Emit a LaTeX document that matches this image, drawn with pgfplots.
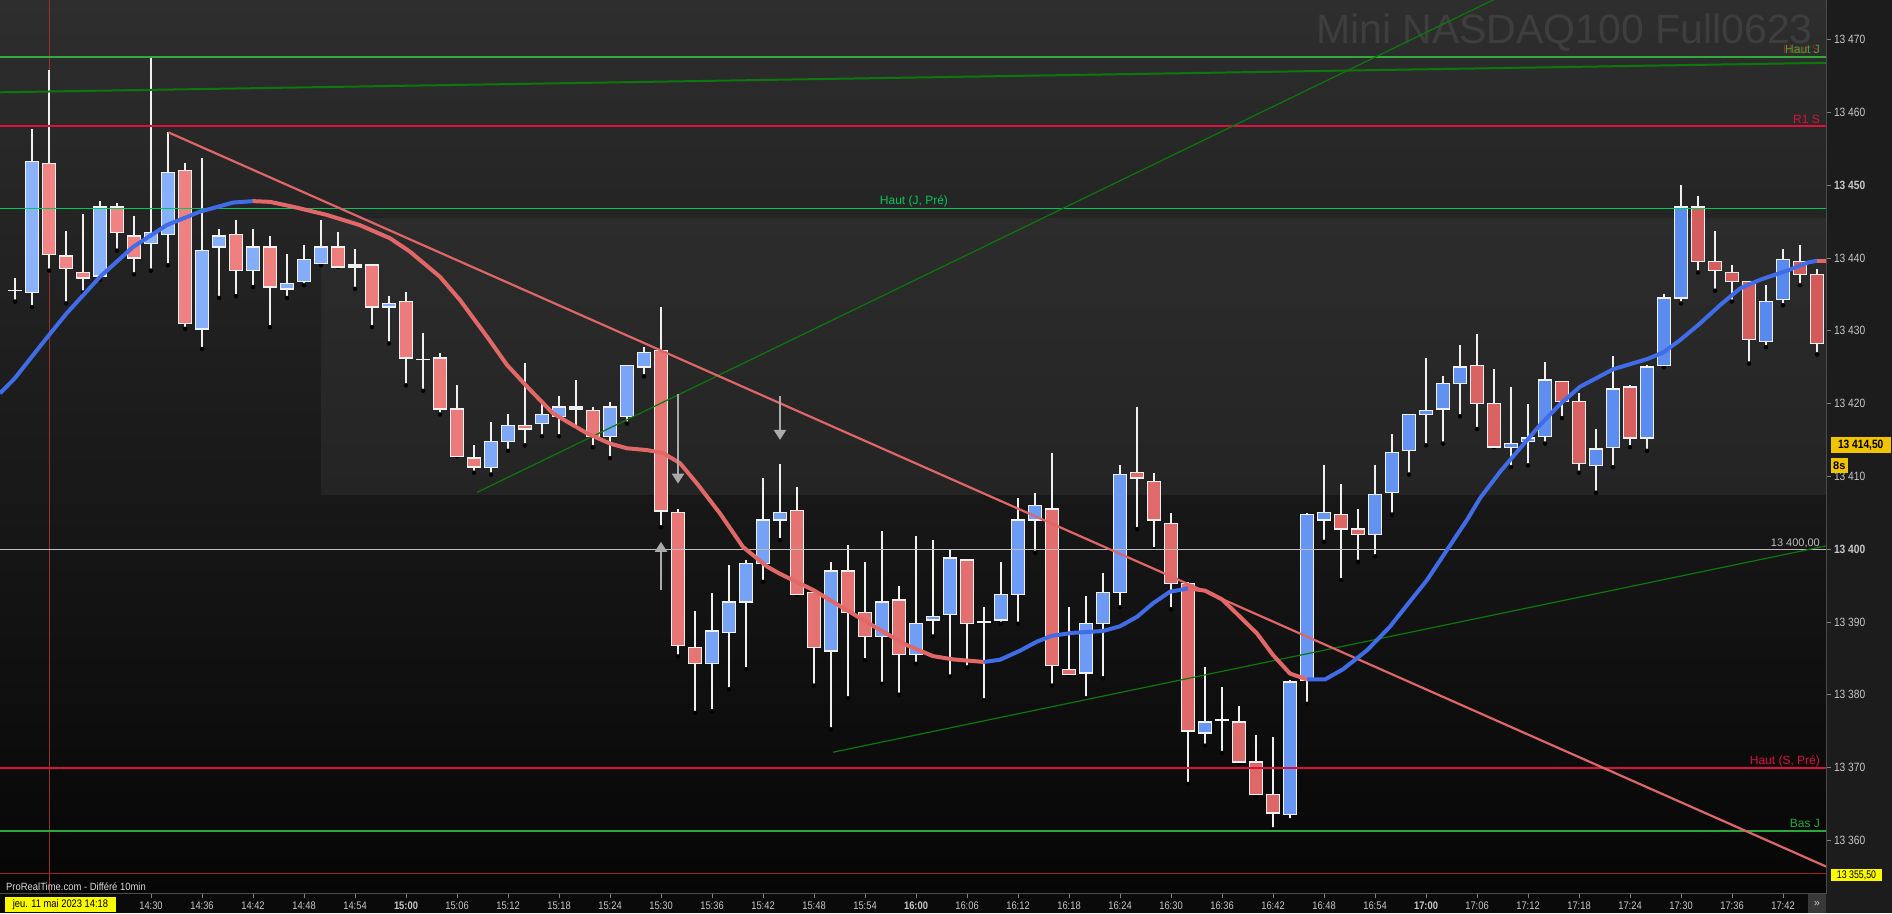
\documentclass[border=0pt]{standalone}
\usepackage{pgfplots}
\pgfplotsset{compat=1.18}
\usepackage{pgfplotstable}
\usepackage{fontspec}
\setmainfont{Liberation Sans}
\usetikzlibrary{arrows.meta}

\definecolor{bgTop}{RGB}{46,46,46}
\definecolor{bgBot}{RGB}{6,6,6}
\definecolor{zoneTop}{RGB}{44,44,44}
\definecolor{zoneBot}{RGB}{36,36,36}
\definecolor{panelBg}{RGB}{28,28,28}
\definecolor{stripBg}{RGB}{10,10,10}
\definecolor{frameGray}{RGB}{75,75,75}
\definecolor{tickText}{RGB}{200,200,200}
\definecolor{titleGray}{RGB}{62,62,62}
\definecolor{bL}{RGB}{140,180,252}
\definecolor{bR}{RGB}{86,136,238}
\definecolor{rL}{RGB}{242,134,132}
\definecolor{rR}{RGB}{212,90,90}
\definecolor{edgeW}{RGB}{240,240,240}
\definecolor{maBlue}{RGB}{64,108,232}
\definecolor{maRed}{RGB}{226,104,104}
\definecolor{trendRed}{RGB}{222,102,102}
\definecolor{slantGreen}{RGB}{12,120,12}
\definecolor{hautJ}{RGB}{50,170,60}
\definecolor{hautJPre}{RGB}{0,200,90}
\definecolor{crimsonL}{RGB}{220,16,60}
\definecolor{basJ}{RGB}{40,170,60}
\definecolor{grayLine}{RGB}{190,190,190}
\definecolor{darkRedLine}{RGB}{160,32,32}
\definecolor{cursorRed}{RGB}{150,50,50}
\definecolor{arrowGray}{RGB}{170,170,170}
\definecolor{goldBox}{RGB}{240,196,0}
\definecolor{yelBox}{RGB}{250,250,0}

% 2-minute candles, index 0 = 14:14 ; columns: open high low close
\pgfplotstableread{
i o h l c
0 13435.5 13437.25 13434.0 13435.5
1 13435.25 13457.75 13433.25 13453.25
2 13453.0 13465.75 13438.25 13440.5
3 13440.25 13443.75 13433.75 13438.5
4 13438.0 13446.0 13435.25 13437.25
5 13437.5 13447.75 13437.0 13447.0
6 13447.0 13447.5 13441.0 13443.5
7 13443.0 13445.75 13437.75 13440.0
8 13442.0 13467.5 13438.25 13443.5
9 13443.25 13457.25 13439.0 13451.75
10 13452.0 13453.0 13430.25 13431.0
11 13430.25 13453.75 13427.5 13441.0
12 13441.5 13444.0 13434.5 13443.0
13 13443.25 13445.25 13434.75 13438.25
14 13438.25 13444.0 13436.0 13441.5
15 13441.5 13443.0 13430.5 13436.0
16 13435.75 13440.5 13434.5 13436.5
17 13436.75 13441.75 13436.25 13439.75
18 13439.25 13445.25 13439.0 13441.5
19 13441.5 13443.5 13438.75 13438.75
20 13439.0 13441.25 13435.75 13438.75
21 13439.0 13439.0 13430.5 13433.25
22 13433.25 13434.75 13428.25 13433.75
23 13434.0 13435.25 13422.5 13426.25
24 13426.0 13429.75 13421.75 13426.0
25 13426.25 13427.0 13418.5 13419.25
26 13419.25 13422.5 13412.75 13412.75
27 13412.5 13414.25 13410.5 13411.25
28 13411.25 13417.5 13410.25 13414.75
29 13414.75 13418.5 13413.5 13417.0
30 13417.0 13425.5 13414.25 13416.5
31 13417.25 13420.0 13415.5 13418.5
32 13418.25 13421.0 13415.5 13419.5
33 13419.5 13423.25 13416.75 13419.25
34 13419.0 13419.5 13414.0 13415.5
35 13415.5 13420.25 13412.5 13419.5
36 13418.25 13425.25 13417.25 13425.25
37 13425.0 13427.75 13423.75 13427.0
38 13427.25 13433.25 13403.0 13405.25
39 13405.0 13405.5 13385.25 13386.75
40 13386.5 13391.5 13377.5 13384.25
41 13384.25 13394.0 13377.75 13388.75
42 13388.5 13397.75 13380.75 13392.75
43 13392.75 13398.5 13383.5 13398.0
44 13398.0 13409.75 13395.5 13404.0
45 13404.0 13411.75 13401.25 13405.0
46 13405.25 13408.5 13393.75 13393.75
47 13394.0 13394.0 13381.25 13386.5
48 13386.0 13398.25 13375.25 13397.0
49 13397.0 13400.5 13379.5 13391.25
50 13391.25 13398.25 13384.75 13388.0
51 13388.0 13402.5 13381.5 13392.75
52 13393.0 13395.0 13380.0 13385.5
53 13385.5 13401.75 13384.25 13389.75
54 13390.25 13401.25 13388.0 13390.75
55 13391.0 13400.0 13382.5 13398.75
56 13398.5 13398.5 13383.75 13389.75
57 13390.0 13392.0 13379.25 13390.0
58 13390.25 13398.25 13389.75 13393.75
59 13393.75 13407.0 13389.75 13404.0
60 13404.0 13407.75 13399.5 13406.0
61 13405.5 13413.25 13381.25 13384.0
62 13383.5 13392.0 13382.75 13382.75
63 13383.0 13393.5 13379.5 13389.75
64 13389.75 13396.75 13382.25 13394.0
65 13394.0 13411.5 13392.0 13410.25
66 13410.5 13419.5 13402.75 13409.75
67 13409.25 13410.5 13400.0 13404.0
68 13403.5 13405.0 13391.75 13395.25
69 13395.25 13395.5 13367.75 13375.0
70 13374.75 13383.75 13373.0 13376.25
71 13376.5 13381.0 13372.0 13376.5
72 13376.25 13378.5 13370.75 13370.75
73 13370.75 13374.5 13366.0 13366.25
74 13366.25 13374.25 13361.5 13363.75
75 13363.5 13382.0 13362.75 13381.75
76 13382.0 13405.0 13378.75 13404.75
77 13404.0 13411.5 13401.0 13405.0
78 13404.75 13409.0 13395.75 13402.75
79 13402.75 13405.5 13398.25 13402.0
80 13402.0 13411.5 13399.0 13407.5
81 13407.75 13415.75 13404.75 13413.25
82 13413.5 13418.5 13410.25 13418.5
83 13418.5 13426.25 13414.25 13419.0
84 13419.25 13423.75 13414.5 13422.75
85 13422.75 13428.0 13418.25 13425.0
86 13425.25 13429.5 13416.5 13420.0
87 13420.0 13424.75 13414.0 13414.0
88 13414.0 13422.25 13411.25 13414.5
89 13414.75 13420.0 13411.5 13415.25
90 13415.5 13425.75 13414.5 13423.25
91 13423.0 13423.0 13418.0 13420.25
92 13420.25 13421.5 13410.5 13411.75
93 13411.5 13416.5 13407.75 13413.75
94 13414.0 13426.5 13411.25 13422.0
95 13422.25 13422.5 13414.0 13415.25
96 13415.25 13425.25 13413.5 13425.0
97 13425.25 13435.0 13425.0 13434.5
98 13434.5 13450.0 13433.75 13447.0
99 13447.0 13448.5 13438.0 13439.5
100 13439.5 13443.75 13435.5 13438.25
101 13438.0 13439.0 13434.0 13436.75
102 13436.75 13436.75 13425.5 13428.75
103 13428.5 13436.25 13427.75 13434.0
104 13434.25 13441.25 13433.5 13439.75
105 13439.5 13441.75 13436.25 13437.75
106 13437.75 13438.5 13426.75 13428.25
}\candles

\pgfplotstableread{
x y v
39 13421.3 -12.3
45 13421.0 -6.0
38 13394.4 6.6
}\signals

\pgfplotsset{
  base/.style={at={(0pt,19.7pt)}, anchor=south west, width=1826pt, height=893.3pt,
    scale only axis, xmin=-0.8824, xmax=106.53, ymin=13352.72, ymax=13475.43},
}
\newcommand\lab{\fontsize{12}{12}\selectfont}

\begin{document}
\begin{tikzpicture}
\useasboundingbox (0pt,0pt) rectangle (1892pt,913pt);
\shade[top color=bgTop, bottom color=bgBot] (0pt,19.7pt) rectangle (1826pt,913pt);
\shade[top color=zoneTop, bottom color=zoneBot] (321pt,418pt) rectangle (1826pt,694pt);
\fill[panelBg] (1826pt,0pt) rectangle (1892pt,913pt);
\fill[stripBg] (0pt,0pt) rectangle (1826pt,19.7pt);
\node[anchor=base east, inner sep=0pt, font=\fontsize{41}{41}\selectfont, text=titleGray] at (1813pt,869.7pt) {Mini NASDAQ100 Full0623};

% wicks
\begin{axis}[base, hide axis]
\addplot[cursorRed, line width=1pt] coordinates {(2,13352.72) (2,13475.43)};
\addplot[only marks, mark=none, error bars/.cd, y dir=plus, y explicit, error mark=none,
  error bar style={line width=2.2pt, color=edgeW}]
  table[x=i, y=l, y error expr=\thisrow{h}-\thisrow{l}] {\candles};
\end{axis}

% bodies
\begin{axis}[base, hide axis, ymin=2.72, ymax=125.43, ybar stacked, bar width=0.73]
\addplot[draw=none, fill=none] table[x=i, y expr={min(\thisrow{o},\thisrow{c})-13350}] {\candles};
\addplot[draw=edgeW, line width=1.3pt, left color=bL, right color=bR]
  table[x=i, y expr={max(\thisrow{c}-\thisrow{o},0.01)}] {\candles};
\addplot[draw=edgeW, line width=1.3pt, left color=rL, right color=rR]
  table[x=i, y expr={max(\thisrow{o}-\thisrow{c},0.01)}] {\candles};
\end{axis}

% lines, averages, ticks
\begin{axis}[base, clip mode=individual,
  axis line style={draw=frameGray, line width=1pt},
  xtick={8,11,...,104},
  xticklabels={14:30,14:36,14:42,14:48,14:54,{\bfseries 15:00},15:06,15:12,15:18,15:24,15:30,15:36,15:42,15:48,15:54,{\bfseries 16:00},16:06,16:12,16:18,16:24,16:30,16:36,16:42,16:48,16:54,{\bfseries 17:00},17:06,17:12,17:18,17:24,17:30,17:36,17:42},
  ytick={13360,13370,...,13470},
  yticklabels={13 360,13 370,13 380,13 390,{\bfseries 13 400},13 410,13 420,13 430,13 440,{\bfseries 13 450},13 460,13 470},
  xtick pos=left, ytick pos=right, yticklabel pos=right,
  tick align=outside, major tick length=5pt,
  tick style={draw=frameGray!70!white, line width=0.8pt},
  xticklabel style={font=\fontsize{11}{11}\selectfont, text=tickText, xscale=0.85},
  yticklabel style={font=\fontsize{12}{12}\selectfont, text=tickText, xscale=0.85},
]
% horizontal levels
\addplot[hautJ, line width=2pt] coordinates {(-1,13467.6) (107,13467.6)};
\addplot[crimsonL, line width=2pt] coordinates {(-1,13458.1) (107,13458.1)};
\addplot[hautJPre, line width=1.5pt] coordinates {(-1,13446.8) (107,13446.8)};
\addplot[grayLine, line width=1pt] coordinates {(-1,13400) (107,13400)};
\addplot[crimsonL, line width=2pt] coordinates {(-1,13370) (107,13370)};
\addplot[basJ, line width=2pt] coordinates {(-1,13361.3) (107,13361.3)};
\addplot[darkRedLine, line width=1pt] coordinates {(-1,13355.5) (107,13355.5)};
% slanted lines
\addplot[slantGreen, line width=2pt] coordinates {(-0.88,13462.75) (106.53,13466.8)};
\addplot[slantGreen, line width=1.2pt] coordinates {(27.18,13407.8) (106.53,13497.6)};
\addplot[slantGreen, line width=1.2pt] coordinates {(48.12,13372.1) (106.53,13400.44)};
\addplot[trendRed, line width=2.2pt] coordinates {(9.02,13457.25) (106.53,13356.4)};
% moving average
\addplot[maBlue, line width=4pt, line join=round] coordinates {(-0.88,13421.4) (0,13423.5) (1.76,13428.7) (3.04,13432.4) (5,13437.4) (6.94,13441.5) (8.92,13444.5) (10.88,13446.35) (12.82,13447.6) (14,13447.8)};
\addplot[maRed, line width=4pt, line join=round] coordinates {(14,13447.8) (15,13447.7) (16.41,13447.0) (18.35,13445.9) (20.29,13444.5) (22.06,13442.7) (23.24,13440.85) (25,13437.4) (26.18,13434.2) (27.76,13429.2) (28.94,13425.3) (30.29,13421.9) (31.65,13418.65) (33.65,13415.9) (35,13414.5) (36,13413.85) (37.18,13413.6) (38.12,13413.2) (39.12,13411.8) (40.12,13409.0) (41.47,13404.9) (42.82,13400.3) (44.24,13397.6) (45,13396.6) (46.94,13394.4) (48.94,13391.6) (50.88,13388.9) (52.47,13386.8) (54,13385.3) (55.18,13384.85) (57,13384.5)};
\addplot[maBlue, line width=4pt, line join=round] coordinates {(57,13384.5) (57.94,13384.8) (59.12,13386.05) (60.12,13387.3) (61,13388.1) (62.24,13388.5) (64,13388.75) (65,13389.4) (66,13390.7) (66.94,13392.55) (67.94,13394.15) (69,13394.6)};
\addplot[maRed, line width=4pt, line join=round] coordinates {(69,13394.6) (70,13394.3) (71,13393.1) (72.06,13390.7) (73.06,13388.4) (74,13385.45) (75,13382.9) (76,13382.1)};
\addplot[maBlue, line width=4pt, line join=round] coordinates {(76,13382.1) (77.06,13382.1) (78.12,13383.5) (79.53,13386.1) (80.88,13389.35) (81.88,13392.3) (83.06,13395.75) (84.24,13399.9) (85.41,13404.0) (86.18,13407.0) (87.35,13410.6) (88.53,13413.85) (89.71,13417.05) (90.88,13419.9) (92.06,13422.3) (94,13424.7) (96,13426.1) (96.94,13427.0) (97.94,13428.7) (99.12,13431.0) (100.29,13433.5) (101.47,13435.8) (102.65,13437.0) (104.24,13438.25) (105.5,13439.4) (106,13439.6)};
\addplot[maRed, line width=4pt, line join=round] coordinates {(106,13439.6) (106.6,13439.6)};
% signal arrows
\addplot[arrowGray, line width=2.4pt, -{Triangle[width=12pt,length=10pt]}, quiver={u=0, v=\thisrow{v}}]
  table[x=x, y=y] {\signals};
% level labels
\node[anchor=base east, inner sep=0pt, font=\lab, text=darkRedLine] at (axis cs:106.18,13468.1) {Haut S};
\node[anchor=base east, inner sep=0pt, font=\lab, text=hautJ] at (axis cs:106.18,13468.1) {Haut J};
\node[anchor=base east, inner sep=0pt, font=\lab, text=crimsonL] at (axis cs:106.18,13458.5) {R1 S};
\node[anchor=base, inner sep=0pt, font=\lab, text=hautJPre] at (axis cs:52.88,13447.3) {Haut (J, Pré)};
\node[anchor=base east, inner sep=0pt, font=\fontsize{11}{11}\selectfont, text=grayLine] at (axis cs:106.18,13400.4) {13 400,00};
\node[anchor=base east, inner sep=0pt, font=\lab, text=crimsonL] at (axis cs:106.18,13370.4) {Haut (S, Pré)};
\node[anchor=base east, inner sep=0pt, font=\lab, text=basJ] at (axis cs:106.18,13361.7) {Bas J};
\end{axis}

% annotations outside the plot
\node[anchor=west, inner sep=0pt, xscale=0.9, font=\fontsize{10.5}{10.5}\selectfont, text=white!85!black] at (6pt,26.3pt) {ProRealTime.com - Différé 10min};
\fill[yelBox] (5pt,1pt) rectangle (116pt,16pt);
\node[anchor=center, inner sep=0pt, xscale=0.85, font=\fontsize{11}{11}\selectfont, text=black] at (60.5pt,8.5pt) {jeu. 11 mai 2023 14:18};
\fill[goldBox] (1830.7pt,460pt) rectangle (1890.7pt,476.2pt);
\node[anchor=center, inner sep=0pt, xscale=0.85, font=\bfseries\fontsize{12}{12}\selectfont, text=black] at (1860.7pt,468.1pt) {13 414,50};
\fill[goldBox] (1830.7pt,440pt) rectangle (1848pt,455pt);
\node[anchor=center, inner sep=0pt, font=\bfseries\fontsize{11}{11}\selectfont, text=black] at (1839.3pt,447.5pt) {8s};
\fill[yelBox] (1831pt,32pt) rectangle (1882pt,44pt);
\node[anchor=center, inner sep=0pt, xscale=0.8, font=\fontsize{11}{11}\selectfont, text=black] at (1856.5pt,38pt) {13 355,50};
\fill[black!78!white] (1808pt,0pt) rectangle (1826pt,19pt);
\node[anchor=center, inner sep=0pt, font=\fontsize{11}{11}\selectfont, text=tickText] at (1817pt,9.5pt) {»};
\end{tikzpicture}
\end{document}
